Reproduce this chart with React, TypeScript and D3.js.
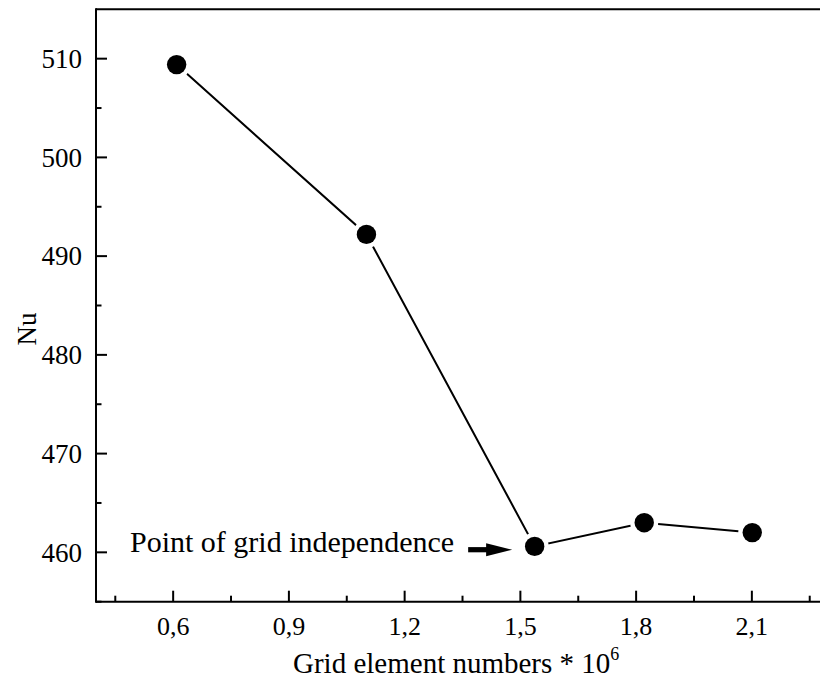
import React from "react";
import * as d3 from "d3";

// Nusselt number versus mesh size (millions of elements)
const gridElements = [0.609, 1.101, 1.537, 1.821, 2.101];
const nusselt = [509.4, 492.2, 460.6, 463.0, 462.0];

const xMajorTicks = [0.6, 0.9, 1.2, 1.5, 1.8, 2.1];
const xMinorTicks = [0.45, 0.75, 1.05, 1.35, 1.65, 1.95, 2.25];
const yMajorTicks = [460, 470, 480, 490, 500, 510];
const yMinorTicks = [455, 465, 475, 485, 495, 505];

const independenceIndex = 2;
const annotationText = "Point of grid independence";

const W = 820;
const H = 689;
const SERIF = '"Liberation Serif", "Times New Roman", Tinos, serif';

export default function App() {
  const left = 96;
  const top = 9.3;
  const bottom = 601.7;

  const x = d3.scaleLinear().domain([0.4, 2.3]).range([left, left + 1.9 * 385.8]);
  const y = d3.scaleLinear().domain([455, 515]).range([bottom, top]);

  const line = d3
    .line<number>()
    .x((_, i) => x(gridElements[i]))
    .y((d) => y(d));

  const fmt = (v: number) => v.toFixed(1).replace(".", ",");

  const px = x(gridElements[independenceIndex]);
  const py = y(nusselt[independenceIndex]);
  const tipX = px - 22.5;
  const arrowY = py + 3.3;

  const T = (props: any) => (
    <text fill="#000" fontFamily={SERIF} {...props} style={{ fontFamily: SERIF }} />
  );

  return (
    <svg
      width={W}
      height={H}
      fontFamily={SERIF}
      style={{ position: "absolute", left: 0, top: 0, background: "#fff", fontFamily: SERIF }}
    >
      <style>{`text, tspan { font-family: ${SERIF}; }`}</style>
      <rect x={0} y={0} width={W} height={H} fill="#fff" />

      {/* frame: left, bottom, top */}
      <line x1={left} x2={W} y1={top} y2={top} stroke="#000" strokeWidth={2} />
      <line x1={left} x2={W} y1={bottom} y2={bottom} stroke="#000" strokeWidth={2} />
      <line x1={left} x2={left} y1={top - 1} y2={bottom + 1} stroke="#000" strokeWidth={2} />

      {/* y ticks (inward) */}
      {yMajorTicks.map((t) => (
        <g key={"ym" + t}>
          <line x1={left} x2={left + 11} y1={y(t)} y2={y(t)} stroke="#000" strokeWidth={2} />
          <T x={left - 14} y={y(t) + 9.3} textAnchor="end" fontSize={27}>
            {t}
          </T>
        </g>
      ))}
      {yMinorTicks.map((t) => (
        <line key={"yn" + t} x1={left} x2={left + 5.5} y1={y(t)} y2={y(t)} stroke="#000" strokeWidth={2} />
      ))}

      {/* x ticks (inward) */}
      {xMajorTicks.map((t) => (
        <g key={"xm" + t}>
          <line x1={x(t)} x2={x(t)} y1={bottom} y2={bottom - 11} stroke="#000" strokeWidth={2} />
          <T x={x(t)} y={635} textAnchor="middle" fontSize={26}>
            {fmt(t)}
          </T>
        </g>
      ))}
      {xMinorTicks.map((t) => (
        <line key={"xn" + t} x1={x(t)} x2={x(t)} y1={bottom} y2={bottom - 6} stroke="#000" strokeWidth={2} />
      ))}

      {/* axis titles */}
      <T transform={`translate(36, 329) rotate(-90)`} textAnchor="middle" fontSize={27}>
        Nu
      </T>
      <T x={293} y={672.7} fontSize={29}>
        Grid element numbers * 10
        <tspan fontSize={18} dy={-13}>
          6
        </tspan>
      </T>

      {/* data line and markers */}
      <path d={line(nusselt) ?? ""} fill="none" stroke="#000" strokeWidth={2} />
      {nusselt.map((v, i) => (
        <circle key={"h" + i} cx={x(gridElements[i])} cy={y(v)} r={14} fill="#fff" />
      ))}
      {nusselt.map((v, i) => (
        <circle key={"m" + i} cx={x(gridElements[i])} cy={y(v)} r={9.7} fill="#000" />
      ))}

      {/* annotation */}
      <T x={130} y={551.7} fontSize={30}>
        {annotationText}
      </T>
      <rect x={tipX - 44} y={arrowY - 2.6} width={22} height={5.2} fill="#000" />
      <path
        d={`M${tipX},${arrowY} L${tipX - 26},${arrowY - 6.5} L${tipX - 26},${arrowY + 6.5} Z`}
        fill="#000"
      />
    </svg>
  );
}
